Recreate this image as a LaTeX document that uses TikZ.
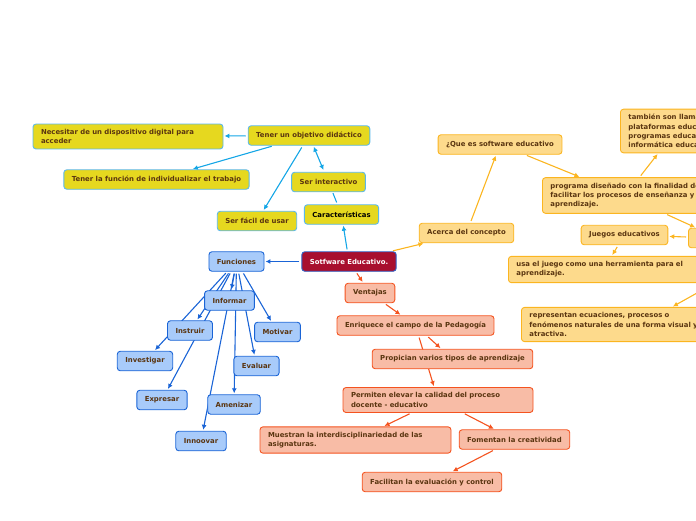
\documentclass[tikz,border=0pt]{standalone}
\usepackage{fontspec}
\setmainfont{DejaVu Sans}
\usetikzlibrary{arrows.meta,backgrounds}
\definecolor{txtbrown}{HTML}{5A3510}
\definecolor{ylwfill}{HTML}{E6D81F}
\definecolor{ylwline}{HTML}{5BB8EA}
\definecolor{cyanline}{HTML}{14A6E6}
\definecolor{bluefill}{HTML}{A8CBFA}
\definecolor{blueline}{HTML}{1A64D6}
\definecolor{orgfill}{HTML}{FDDA8C}
\definecolor{orgline}{HTML}{FBB520}
\definecolor{salfill}{HTML}{F8BCA6}
\definecolor{salline}{HTML}{F4531F}
\definecolor{mainfill}{HTML}{A80F2E}
\definecolor{mainline}{HTML}{2D5EC4}
\tikzset{
  box/.style={draw, rounded corners=3pt, line width=0.9pt, text=txtbrown, align=left,
    font=\fontsize{6.9}{9.2}\selectfont\bfseries, inner xsep=8pt, inner ysep=5.2pt, minimum height=19.5pt},
  ybox/.style={box, fill=ylwfill, draw=ylwline},
  bbox/.style={box, fill=bluefill, draw=blueline},
  obox/.style={box, fill=orgfill, draw=orgline},
  sbox/.style={box, fill=salfill, draw=salline},
  link/.style={line width=1.1pt, shorten <=2pt, shorten >=1pt},
  cyanlink/.style={link, cyanline},
  bluelink/.style={link, blueline},
  orglink/.style={link, orgline},
  sallink/.style={link, salline}
}
\begin{document}
\begin{tikzpicture}[x=1pt, y=-1pt, >={Latex[length=5pt,width=5pt]}]
\useasboundingbox (0,0) rectangle (696,520);
\clip (0,0) rectangle (696,520);
\node[box, fill=mainfill, draw=mainline, text=white] (software) at (349,261.5) {Sotfware Educativo.};
\node[ybox, text=black] (caract) at (341.5,214.5) {Características};
\node[ybox] (interactivo) at (328.5,182) {Ser interactivo};
\node[ybox] (objetivo) at (309,135.5) {Tener un objetivo didáctico};
\node[ybox, text width=174pt] (necesitar) at (128,136.5) {Necesitar de un dispositivo digital para\\acceder};
\node[ybox] (funcion) at (156.5,179.5) {Tener la función de individualizar el trabajo};
\node[ybox] (facil) at (257,221) {Ser fácil de usar};
\node[bbox] (funciones) at (236.5,261.5) {Funciones};
\node[bbox] (informar) at (229.5,300.5) {Informar};
\node[bbox] (instruir) at (190,330.5) {Instruir};
\node[bbox] (motivar) at (277.5,332) {Motivar};
\node[bbox] (investigar) at (145,361) {Investigar};
\node[bbox] (evaluar) at (256.5,366) {Evaluar};
\node[bbox] (expresar) at (162,400) {Expresar};
\node[bbox] (amenizar) at (234,404.5) {Amenizar};
\node[bbox] (innoovar) at (201,441) {Innoovar};
\node[obox] (acerca) at (466.5,233) {Acerca del concepto};
\node[obox] (quees) at (500,144.5) {¿Que es software educativo};
\node[obox, anchor=west] (programa) at (542,195.5) {programa diseñado con la finalidad de\\facilitar los procesos de enseñanza y\\aprendizaje.};
\node[obox, anchor=west] (tambien) at (620,131) {también son llamados\\plataformas educativas,\\programas educativos o\\informática educativa};
\node[obox, anchor=west, minimum width=60pt] (tipos) at (688,238) {};
\node[obox] (juegos) at (624.5,235) {Juegos educativos};
\node[obox, anchor=west, text width=174pt] (usa) at (508,269.5) {usa el juego como una herramienta para el\\aprendizaje.};
\node[obox, anchor=west, text width=176pt] (representan) at (521,324.5) {representan ecuaciones, procesos o\\fenómenos naturales de una forma visual y\\atractiva.};
\coordinate (offright) at (740,269);
\node[sbox] (ventajas) at (370,293) {Ventajas};
\node[sbox] (enriquece) at (415.5,325.5) {Enriquece el campo de la Pedagogía};
\node[sbox] (propician) at (452.5,359) {Propician varios tipos de aprendizaje};
\node[sbox, text width=174pt] (permiten) at (438,400) {Permiten elevar la calidad del proceso\\docente - educativo};
\node[sbox, text width=175pt] (muestran) at (355.5,440) {Muestran la interdisciplinariedad de las\\asignaturas.};
\node[sbox] (fomentan) at (514.5,439.5) {Fomentan la creatividad};
\node[sbox] (facilitan) at (432,482) {Facilitan la evaluación y control};
\begin{scope}[on background layer]
\draw[cyanlink, ->] (software) -- (caract);
\draw[cyanlink] (caract) -- (interactivo);
\draw[cyanlink, <->] (interactivo) -- (objetivo);
\draw[cyanlink, ->] (objetivo) -- (necesitar);
\draw[cyanlink, ->] (objetivo) -- (funcion);
\draw[cyanlink, ->] (objetivo) -- (facil);
\draw[bluelink, ->] (software) -- (funciones);
\foreach \f in {informar,instruir,motivar,investigar,evaluar,expresar,amenizar,innoovar}
  \draw[bluelink, ->] (funciones) -- (\f);
\draw[orglink, ->] (software) -- (acerca);
\draw[orglink, ->] (acerca) -- (quees);
\draw[orglink, ->] (quees) -- (programa);
\draw[orglink, ->] (programa) -- (tambien);
\draw[orglink, ->] (programa) -- (tipos);
\draw[orglink, ->] (tipos) -- (juegos);
\draw[orglink, ->] (juegos) -- (usa);
\draw[orglink, ->] (offright) -- ([xshift=151pt]representan.north west);
\draw[sallink, ->] (software) -- (ventajas);
\draw[sallink, ->] (ventajas) -- (enriquece);
\draw[sallink, ->] (enriquece) -- (propician);
\draw[sallink, ->] (enriquece) -- (permiten);
\draw[sallink, ->] (permiten) -- (muestran);
\draw[sallink, ->] (permiten) -- (fomentan);
\draw[sallink, ->] (fomentan) -- (facilitan);
\end{scope}
\end{tikzpicture}
\end{document}
